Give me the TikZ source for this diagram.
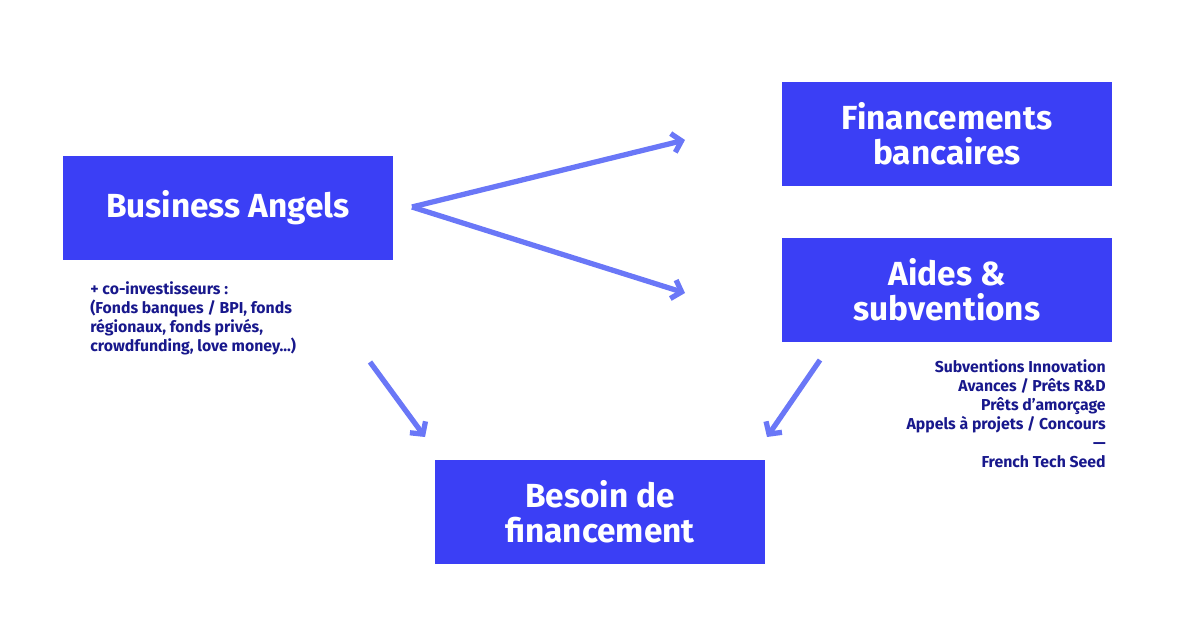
\documentclass[tikz,border=0pt]{standalone}
\usepackage{fontspec}
\setmainfont{Fira Sans}
\usetikzlibrary{positioning,arrows.meta}
\definecolor{mblue}{RGB}{59,63,245}
\definecolor{marrow}{RGB}{106,119,247}
\definecolor{mnavy}{RGB}{24,24,140}

\begin{document}
\begin{tikzpicture}[x=0.02cm,y=-0.02cm,
    box/.style={fill=mblue,draw=none,text=white,font=\bfseries\fontsize{19}{20}\selectfont,
      minimum width=6.6cm,minimum height=2.08cm,align=center,inner sep=0pt},
    flow/.style={draw=marrow,line width=3pt,-{Straight Barb[length=5pt,width=11pt,line width=3pt]}},
    note/.style={text=mnavy,font=\bfseries\fontsize{9}{10.8}\selectfont,inner sep=0pt}]
    \useasboundingbox (0,0) rectangle (1200,628);

    \node[box] (angels) at (228,208) {Business Angels};
    \node[box] (bank) at (947,134) {Financements\\bancaires};
    \node[box] (aides) at (947,290) {Aides \&\\subventions};
    \node[box] (besoin) at (600,512) {Besoin de\\financement};

    \node[note,align=left,anchor=north west] (coinv) at (90,281) {+ co-investisseurs :\\(Fonds banques / BPI, fonds\\régionaux, fonds privés,\\crowdfunding, love money...)};
    \node[note,align=right,anchor=north east] (subv) at (1106,359) {Subventions Innovation\\Avances / Prêts R\&D\\Prêts d’amorçage\\Appels à projets / Concours\\---\\French Tech Seed};

    \coordinate (fork) at (412,207);
    \coordinate (tobank) at (685,140);
    \coordinate (toaides) at (685,293);
    \coordinate (froml) at (370,362);
    \coordinate (tol) at (425,437);
    \coordinate (fromr) at (820,360);
    \coordinate (tor) at (767,437);

    \draw[flow] (fork) -- (tobank);
    \draw[flow] (fork) -- (toaides);
    \draw[flow] (froml) -- (tol);
    \draw[flow] (fromr) -- (tor);
\end{tikzpicture}
\end{document}
